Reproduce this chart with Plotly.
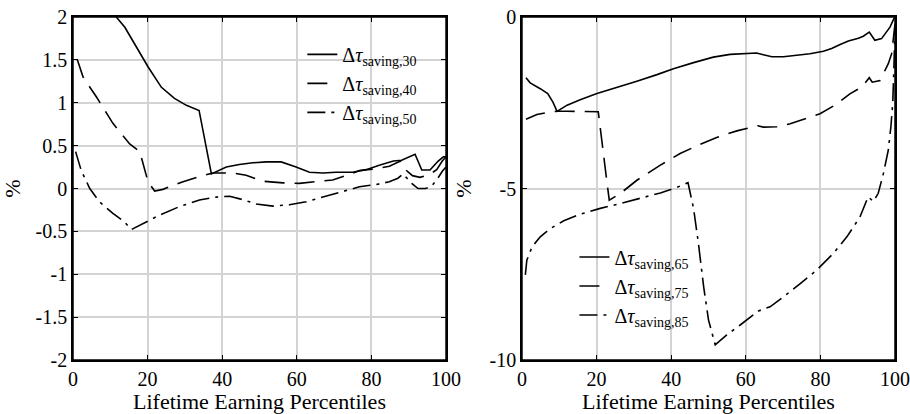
import plotly.graph_objects as go

# ---------------- data (left panel) ----------------
x_s30 = [11.6, 13.9, 17.0, 20.1, 23.7, 27.2, 30.4, 33.8, 37.1, 41.1, 44.6, 48.2, 51.8, 55.8,
         59.8, 63.4, 67.0, 70.5, 75.0, 78.6, 82.1, 85.9, 88.1, 91.7, 93.5, 95.7, 97.9, 99.3, 100]
y_s30 = [2.0, 1.88, 1.65, 1.42, 1.18, 1.05, 0.97, 0.91, 0.17, 0.25, 0.28, 0.30, 0.31, 0.31,
         0.25, 0.19, 0.18, 0.19, 0.19, 0.22, 0.27, 0.32, 0.33, 0.40, 0.215, 0.215, 0.32, 0.37, 0.37]

x_s40 = [1.1, 2.7, 6.25, 10.7, 15.2, 17.9, 20.1, 21.9, 24.1, 29.5, 33.9, 37.5, 42.9, 46.4, 50.9,
         56.3, 60.7, 66.0, 69.6, 73.2, 76.8, 81.3, 84.8, 87.8, 89.4, 91.0, 93.0, 95.5, 97.5, 99.0, 100]
y_s40 = [1.51, 1.30, 1.07, 0.76, 0.52, 0.43, 0.08, -0.03, -0.01, 0.08, 0.14, 0.18, 0.18, 0.155, 0.085,
         0.066, 0.06, 0.08, 0.10, 0.15, 0.21, 0.23, 0.26, 0.32, 0.21, 0.15, 0.13, 0.16, 0.22, 0.32, 0.37]

x_s50 = [0.7, 2.2, 4.5, 7.1, 10.7, 13.8, 15.6, 19.6, 23.2, 28.6, 33.9, 38.4, 42.0, 45.5, 49.1,
         53.6, 58.0, 62.5, 67.0, 72.3, 76.8, 81.3, 84.8, 87.1, 88.5, 90.8, 92.5, 94.5, 96.0, 97.5, 99.0, 100]
y_s50 = [0.43, 0.21, 0.0, -0.155, -0.29, -0.39, -0.48, -0.39, -0.31, -0.21, -0.135, -0.10, -0.09, -0.13, -0.18,
         -0.205, -0.19, -0.155, -0.10, -0.04, 0.02, 0.047, 0.078, 0.12, 0.17, 0.06, 0.0, 0.0, 0.02, 0.10, 0.20, 0.25]

# ---------------- data (right panel) ----------------
x_s65 = [1.07, 2.2, 4.9, 6.9, 8.3, 9.4, 12.1, 15.6, 20.1, 25.4, 30.8, 36.2, 40.6, 46.0, 51.3, 55.8,
         59.8, 62.9, 64.7, 67.0, 70.1, 73.7, 77.2, 80.8, 83.0, 85.3, 87.5, 90.2, 91.5, 93.1, 94.6,
         96.4, 97.3, 98.7, 99.7, 100]
y_s65 = [-1.77, -1.92, -2.09, -2.23, -2.48, -2.75, -2.57, -2.41, -2.23, -2.06, -1.87, -1.68, -1.51, -1.33, -1.17, -1.09,
         -1.06, -1.05, -1.10, -1.16, -1.16, -1.12, -1.07, -1.00, -0.92, -0.80, -0.70, -0.62, -0.56, -0.44, -0.68,
         -0.63, -0.49, -0.29, -0.05, 0.0]

x_s75 = [1.07, 4.0, 7.6, 9.4, 12.0, 15.6, 20.45, 22.7, 23.4, 26.3, 30.8, 37.1, 42.4, 47.8, 52.2, 57.6,
         61.2, 63.2, 64.7, 68.3, 71.9, 76.3, 79.9, 83.9, 87.9, 91.1, 93.1, 93.9, 96.0, 98.2, 99.1, 100]
y_s75 = [-2.98, -2.84, -2.77, -2.75, -2.75, -2.75, -2.76, -4.75, -5.34, -5.15, -4.76, -4.32, -3.98, -3.71, -3.51, -3.32,
         -3.22, -3.17, -3.21, -3.20, -3.11, -2.96, -2.82, -2.57, -2.24, -2.04, -1.77, -1.90, -1.85, -1.36, -1.07, -0.2]

x_s85 = [0.9, 1.3, 2.7, 4.9, 7.6, 11.2, 15.6, 21.0, 26.3, 31.7, 37.1, 41.5, 44.5, 46.0, 47.3, 48.7, 50.0, 51.8,
         54.9, 58.5, 61.2, 63.4, 66.5, 70.1, 74.6, 79.0, 83.5, 87.1, 90.6, 92.8, 94.2, 95.5, 96.9, 98.2, 98.9,
         99.4, 99.7, 100]
y_s85 = [-7.52, -7.09, -6.70, -6.41, -6.17, -5.94, -5.75, -5.58, -5.44, -5.29, -5.13, -4.97, -4.83, -5.58, -6.6, -7.86, -8.83, -9.56,
         -9.27, -8.98, -8.74, -8.57, -8.45, -8.16, -7.77, -7.38, -6.89, -6.41, -5.83, -5.24, -5.38, -5.14, -4.56, -3.88, -3.2,
         -2.5, -1.5, -0.3]

x_ticks = [0, 20, 40, 60, 80, 100]
x_ticktext = ["0", "20", "40", "60", "80", "100"]
yl_ticks = [-2, -1.5, -1, -0.5, 0, 0.5, 1, 1.5, 2]
yl_ticktext = ["-2", "-1.5", "-1", "-0.5", "0", "0.5", "1", "1.5", "2"]
yr_ticks = [-10, -5, 0]
yr_ticktext = ["-10", "-5", "0"]

names_left = ["Δ<i>τ</i><sub>saving,30</sub>", "Δ<i>τ</i><sub>saving,40</sub>", "Δ<i>τ</i><sub>saving,50</sub>"]
names_right = ["Δ<i>τ</i><sub>saving,65</sub>", "Δ<i>τ</i><sub>saving,75</sub>", "Δ<i>τ</i><sub>saving,85</sub>"]

FONT = "Liberation Serif"
dashes = ["solid", "20px,10px", "18px,6px,3px,6px"]

fig = go.Figure()
for xs, ys, nm, d in zip([x_s30, x_s40, x_s50], [y_s30, y_s40, y_s50], names_left, dashes):
    fig.add_trace(go.Scatter(x=xs, y=ys, name=nm, mode="lines",
                             line=dict(color="black", width=1.6, dash=d),
                             xaxis="x", yaxis="y", legend="legend"))
for xs, ys, nm, d in zip([x_s65, x_s75, x_s85], [y_s65, y_s75, y_s85], names_right, dashes):
    fig.add_trace(go.Scatter(x=xs, y=ys, name=nm, mode="lines",
                             line=dict(color="black", width=1.6, dash=d),
                             xaxis="x2", yaxis="y2", legend="legend2"))

ax_common = dict(showline=True, linecolor="black", linewidth=1.5, mirror="ticks",
                 ticks="inside", ticklen=5, tickwidth=1.2, tickcolor="black",
                 showgrid=True, gridcolor="#d3d3d3", gridwidth=1.5, zeroline=False,
                 automargin=False, ticklabeloverflow="allow",
                 tickfont=dict(family=FONT, size=20, color="black"))

title_font = dict(family=FONT, size=22, color="black")

fig.update_layout(
    width=910, height=414,
    margin=dict(l=73, r=15, t=17, b=54),
    paper_bgcolor="white", plot_bgcolor="white",
    font=dict(family=FONT, color="black"),
    xaxis=dict(domain=[0, 0.4538], range=[0, 100], tickvals=x_ticks, ticktext=x_ticktext,
               title=dict(text="Lifetime Earning Percentiles", font=title_font, standoff=0),
               anchor="y", **ax_common),
    yaxis=dict(domain=[0, 1], range=[-2, 2], tickvals=yl_ticks, ticktext=yl_ticktext,
               title=dict(text="%", font=title_font, standoff=12),
               anchor="x", **ax_common),
    xaxis2=dict(domain=[0.5462, 1], range=[0, 100], tickvals=x_ticks, ticktext=x_ticktext,
                title=dict(text="Lifetime Earning Percentiles", font=title_font, standoff=0),
                anchor="y2", **ax_common),
    yaxis2=dict(domain=[0, 1], range=[-10, 0], tickvals=yr_ticks, ticktext=yr_ticktext,
                title=dict(text="%", font=title_font, standoff=12),
                anchor="x2", **ax_common),
    legend=dict(x=0.279, y=0.948, xanchor="left", yanchor="top", bgcolor="rgba(0,0,0,0)",
                font=dict(family=FONT, size=20), tracegroupgap=0),
    legend2=dict(x=0.61, y=0.357, xanchor="left", yanchor="top", bgcolor="rgba(0,0,0,0)",
                 font=dict(family=FONT, size=20), tracegroupgap=0),
    showlegend=True,
)

# axes frame (box) around each panel
for xr, yr in [("x domain", "y domain"), ("x2 domain", "y2 domain")]:
    fig.add_shape(type="rect", xref=xr, yref=yr, x0=0, x1=1, y0=0, y1=1,
                  line=dict(color="black", width=1.5), fillcolor="rgba(0,0,0,0)", layer="above")

# remove the page's default body margin so the 910x414 figure fills the window
fig.write_html("out.html", config={"displayModeBar": False},
               post_script="document.body.style.margin='0';document.body.style.overflow='hidden';")
